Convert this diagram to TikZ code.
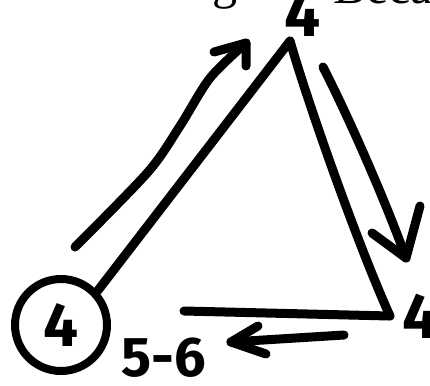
\documentclass[tikz,border=0pt]{standalone}
\usepackage{fontspec}
\newfontfamily\handfont{Fira Sans}
\newfontfamily\scanfont{Liberation Serif}
\begin{document}
\begin{tikzpicture}[x=1pt,y=-1pt]
\tikzset{
  marker/.style={line width=9pt, line cap=round, line join=round, black},
  digit/.style={font=\handfont\bfseries\fontsize{64}{64}\selectfont, inner sep=0pt},
  ringnode/.style={circle, draw, line width=8pt, minimum size=92pt, inner sep=0pt,
                   font=\handfont\bfseries\fontsize{62}{62}\selectfont},
  scantext/.style={font=\scanfont\fontsize{50}{50}\selectfont, inner sep=0pt}
}
\useasboundingbox (0,0) rectangle (430,385);
\clip (0,0) rectangle (430,385);

% cut-off line of printed text at the top
\node[scantext, anchor=south west] (scanA) at (212,9) {g};
\node[scantext, anchor=south west] (scanB) at (333,4) {Becau};

% vertices
\node[ringnode] (A) at (61,325) {4};
\coordinate (T) at (290,41);
\coordinate (R) at (390,316);
\coordinate (B) at (184,311);

% triangle
\draw[marker] (A.43) -- (T);
\draw[marker] (T) .. controls (310,110) and (360,250) .. (R);
\draw[marker] (R) -- (B);

% vertex labels
\node[digit] (t4) at (303,14) {4};
\node[digit] (r4) at (421,316) {4};
\node[font=\handfont\bfseries\fontsize{56}{56}\selectfont, inner sep=0pt] (lbl) at (164,358) {5-6};

% arrow along left side
\coordinate (a1s) at (75,247);
\coordinate (a1e) at (246,43);
\coordinate (a1l) at (214,52);
\coordinate (a1r) at (246,66);
\draw[marker] plot[smooth, tension=0.5] coordinates {(a1s) (148,172) (180,126) (210,78) (a1e)};
\draw[marker] (a1l) -- (a1e) -- (a1r);

% arrow along right side
\coordinate (a2s) at (323,67);
\coordinate (a2e) at (406,258);
\coordinate (a2l) at (372,233);
\coordinate (a2r) at (420,206);
\draw[marker] (a2s) .. controls (350,120) and (385,200) .. (a2e);
\draw[marker] (a2l) -- (a2e) -- (a2r);

% arrow along bottom side
\coordinate (a3s) at (344,335);
\coordinate (a3e) at (231,342);
\coordinate (a3u) at (258,326);
\coordinate (a3d) at (266,354);
\draw[marker] (a3s) -- (a3e);
\draw[marker] (a3u) -- (a3e) -- (a3d);
\end{tikzpicture}
\end{document}
